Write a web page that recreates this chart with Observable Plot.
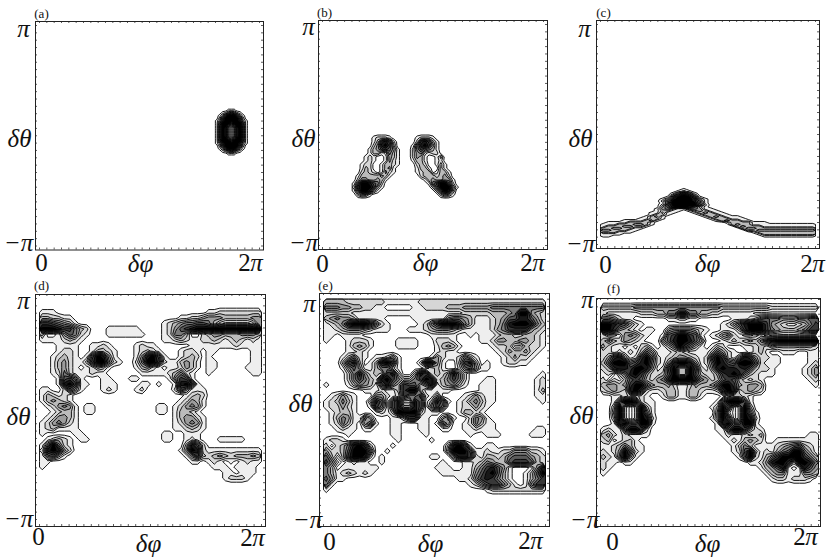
<!DOCTYPE html>
<html><head><meta charset="utf-8">
<script src="https://cdn.jsdelivr.net/npm/d3@7"></script>
<script src="https://cdn.jsdelivr.net/npm/@observablehq/plot@0.6"></script>
<style>html,body{margin:0;padding:0;background:#fff}#c{position:relative;width:830px;height:558px;overflow:hidden}#c svg{position:absolute;overflow:visible;background:none}</style>
</head><body><div id="c"></div>
<script>
const PI = Math.PI;
const panelLetters = ["(a)","(b)","(c)","(d)","(e)","(f)"];
const xLabels = ["0","δφ","2π"];
const xLabelValues = [0, PI, 2*PI];
const yLabels = ["π","δθ","−π"];
const yLabelValues = [PI, 0, -PI];
const thresholds = [0.5,1.5,2.5,3.5,4.5,5.5,6.5,7.5,8.5];
const greys = ["#eeeeee","#d6d6d6","#bbbbbb","#9c9c9c","#7c7c7c","#5a5a5a","#383838","#181818","#000000"];

// extent of each value grid in data coordinates: [φ start, φ end, θ start, θ end]
const extentA = [4.94, 6.02, 0.83, -0.62];
const extentB = [0.844, 3.87, 0.08, -1.86];
const extentC = [0, 2*PI, -1.54, -3.04];
const extentD = [0, 2*PI, PI, -PI];
const extentE = [0, 2*PI, PI, -PI];
const extentF = [0, 2*PI, PI, -PI];

const gridA = [
"0000000000000","0000011100000","0001246421000","0013699963100","0026999996200","0137999997310",
"0159996999510","0169940499610","0169830389610","0169830389610","0169830389610","0169830389610",
"0169940499610","0159996999510","0137999997310","0026999996200","0013699963100","0001246421000",
"0000011100000","0000000000000"];

const gridB = [
"0000000000000 0 0000000000000",
"0000012221000 0 0012221000000",
"0000013786200 0 0027863100000",
"0000024897300 0 0158974100000",
"0000134676410 0 0257543100000",
"0000133125310 0 0245212200000",
"0001210014310 0 0243100130000",
"0001210014210 0 0133100120000",
"0012200133210 0 0023200131000",
"0013200134100 0 0013310031000",
"0023210142100 0 0012330133100",
"0133333431000 0 0002333234200",
"0244334310000 0 0000134334410",
"1599865200000 0 0000015799620",
"2799973100000 0 0000002699941",
"1599731000000 0 0000000269830",
"0243100000000 0 0000000024310",
"0000000000000 0 0000000000000"];

const gridC = [
"0000000000 0000010000 0000000000 0000000000",
"0000000000 0000121000 0000000000 0000000000",
"0000000000 0001474100 0000000000 0000000000",
"0000000000 0003797300 0000000000 0000000000",
"0000000000 0016999610 0000000000 0000000000",
"0000000000 0138999831 0000000000 0000000000",
"0000000000 0259999851 0000000000 0000000000",
"0000000000 0139999951 0000000000 0000000000",
"0000000000 0269999962 0000000000 0000000000",
"0000000000 0368998631 0000000000 0000000000",
"0000000000 1453114541 1000000000 0000000000",
"0000000000 1331101343 1100000000 0000000000",
"0000000001 1411000134 3110000000 0000000000",
"0000000001 3310000013 3311000000 0000000000",
"0000000013 4100000001 3431110000 0000000000",
"0000000113 3100000000 1333111000 0000000000",
"0000111134 1000000000 0134331100 0000000000",
"0111133331 0000000000 0001333311 1000000000",
"1113334431 0000000000 0000343311 1111111111",
"1333443310 0000000000 0000034333 1111111111",
"3344331100 0000000000 0000003443 3333333333",
"4433311000 0000000000 0000000334 4444444444",
"3331110000 0000000000 0000000013 3333333333",
"1111000000 0000000000 0000000001 3333333333",
"1100000000 0000000000 0000000000 1111111111",
"0000000000 0000000000 0000000000 0000000000",
"0000000000 0000000000 0000000000 0000000000"];

const gridD = [
"0000000000 0000000000 0000000000 0000000000",
"0000000000 0000000000 0000000000 0000000000",
"1110000000 0000000000 0000000000 1122222222",
"3322110000 0000000000 0000011223 4443333344",
"7765431000 0000000000 0012345566 5310000014",
"9998775320 0011111100 0012467899 9999999999",
"3001465210 0011111110 0012553002 3443334443",
"1111232100 0000000000 0011232112 2321232121",
"0001111001 1210000121 1000000111 1111121111",
"0001221001 3321000123 2100012210 1100000011",
"0012321016 9841000148 9610012320 1000000011",
"0013421137 9952100259 9721134310 1100000011",
"0013421012 4310000134 2101124310 1100000111",
"0012521112 1100000011 1112352100 1000000011",
"0001675100 0110001100 0001576100 0000000000",
"0001897110 0111000011 0100189710 0000000000",
"1100264100 0121000120 0000264111 0000000000",
"1321210000 0000000000 0000001232 0000000000",
"1343210000 0000000000 0000012431 0000000000",
"0124541011 0000000000 0110124541 0000000000",
"0012331011 0000000000 0110133210 0000000000",
"0124431000 0000000000 0000134421 0000000000",
"1245421000 0000000000 0000124541 0000000000",
"1231111000 0000000000 0000112321 0000000000",
"1000001100 0000000000 0011001110 0000000000",
"0123210110 0000000000 0011001210 0011111000",
"1595210000 0000000000 0000003862 0000000000",
"2898420000 0000000000 0000014982 1111111111",
"1563100000 0000000000 0000001473 2343233343",
"1100000000 0000000000 0000000110 1210101211",
"1000000000 0000000000 0000000000 0111011110",
"0000000000 0000000000 0000000000 0001101110",
"0000000000 0000000000 0000000000 0001222100",
"0000000000 0000000000 0000000000 0000000000",
"0000000000 0000000000 0000000000 0000000000",
"0000000000 0000000000 0000000000 0000000000",
"0000000000 0000000000 0000000000 0000000000",
"0000000000 0000000000 0000000000 0000000000",
"0000000000 0000000000 0000000000 0000000000",
"0000000000 0000000000 0000000000 0000000000"];

const gridE = [
"3333222222 2111111222 2222222222 2222222222",
"5554433221 1000001122 2233344444 5555555555",
"2222211111 1111111111 1111122222 3334599432",
"3454431111 1000001111 1145543111 2346688642",
"1235899975 2100000125 7999853111 2358999853",
"1123444321 1100011123 4443211111 2457777432",
"1101111000 0000000001 1111001011 1233223321",
"1000122210 0001111000 2221000011 2443344321",
"0000134310 0001111000 1343100000 1223003221",
"0000112100 0000000000 1211000000 0124334210",
"0001352101 1241000001 4211253100 0012422100",
"0003783013 8971000288 4100378301 0012211000",
"0001464113 5531000012 3100256411 0000000000",
"0000258423 2783003872 3248520000 0000000001",
"0000257532 8975335798 2357520001 1000000012",
"1000135431 6853766358 1345310011 1000000012",
"0000000111 2113799311 1110000011 1000000013",
"0124210004 4212755721 4000012421 1000000011",
"1235310038 6168228613 8610124531 1000000001",
"1224210017 5168448615 7500122421 0000000000",
"0123310001 2139999311 1000133210 0000000000",
"0135411530 0011377110 0351002541 0000000000",
"0125310461 0011000110 1640012531 1000000000",
"0012110110 0011000110 0110011211 1000000011",
"0000100000 0011000010 0000001001 1100000111",
"1221000000 0001000001 0000000000 0000000000",
"2023589720 0010000000 0038961001 1000000000",
"4223699950 0100000000 0049996112 1122444221",
"6303799820 1000000001 1004887213 3235666432",
"7520121100 1000000000 0100011235 4336777632",
"5301111111 0000000000 1110011357 8641000148",
"5312321210 0000000000 0111111468 9631001369",
"6411000000 0000000000 0000112578 7531001357",
"5100000000 0000000000 0000001246 7753101577",
"1000000000 0000000000 0000000001 2222222222",
"0000000000 0000000000 0000000000 0000000000",
"0000000000 0000000000 0000000000 0000000000",
"0000000000 0000000000 0000000000 0000000000",
"0000000000 0000000000 0000000000 0000000000",
"0000000000 0000000000 0000000000 0000000000"];

const gridF = [
"0000000000 0000000000 0000000000 0000000000",
"3333334444 4444444444 4433333333 3222222222",
"2111111222 3355885533 2211111100 0000000000",
"5542110000 0011221100 0000111235 6554445566",
"9987642100 0000000000 0012468999 7432112357",
"9974321011 0034444321 0011137999 7543334577",
"2001454210 0167997610 1245210012 1000000000",
"3532432100 0468998640 0012323435 7899999999",
"4211010231 0135975310 1320001123 2433333332",
"2212121364 1112321111 3642100123 1001110011",
"2478412796 2123443212 7972148742 2110000011",
"3699956895 2148998412 5986599962 1110000012",
"2378879984 1279339721 4898878632 2100000124",
"1203589742 2369339632 2478985321 1100000124",
"2021367632 4589999854 2367632121 0000000012",
"3443479964 3342112433 4699743443 0000000001",
"2343289721 1233113321 1279823432 0000000000",
"0011233210 0133113310 0012332100 0000000000",
"0016998211 0000000000 0169996100 0000000000",
"0039202931 0000000000 1396029300 0000000000",
"0049202951 0000000000 0492029510 0000000000",
"0039202982 0000000000 1496029820 0000000000",
"0018966991 0000000000 0189669910 0000000000",
"1211699720 0000000000 0116997421 0000000000",
"3421211110 0000000000 0012112123 0000000011",
"2301231000 0000000000 0001213432 0011111111",
"1123531100 0000000000 0000135311 1123456321",
"2124962100 0000000000 0000126931 2135699531",
"3215941000 0000000000 0000015921 3579999753",
"2110110000 0000000000 0000000112 4899729985",
"2100000000 0000000000 0000000001 3468101864",
"1000000000 0000000000 0000000000 1344111443",
"0000000000 0000000000 0000000000 0122122210",
"0000000000 0000000000 0000000000 0000000000",
"0000000000 0000000000 0000000000 0000000000",
"0000000000 0000000000 0000000000 0000000000",
"0000000000 0000000000 0000000000 0000000000",
"0000000000 0000000000 0000000000 0000000000",
"0000000000 0000000000 0000000000 0000000000",
"0000000000 0000000000 0000000000 0000000000"];

// page layout: frame box and inset of the data range within the frame
const frames = [
 {l:35,r:263,t:20.5,b:249,il:4,ir:4,it:4,ib:4},
 {l:318,r:547,t:20,b:249,il:4,ir:4,it:4,ib:4},
 {l:596,r:819,t:20,b:248,il:4,ir:4,it:4,ib:4},
 {l:35,r:265,t:294,b:526,il:4,ir:4,it:4,ib:7},
 {l:319,r:549,t:293,b:526,il:4,ir:4,it:5.7,ib:6.3},
 {l:596,r:820,t:298,b:526,il:4,ir:2,it:1,ib:6}
];
// label centres on the page: letter, then x labels, then y labels
const labelSpots = [
 [[41,13],[41,262],[140,263],[250,262],[23,28],[19,138],[18,242]],
 [[324,12],[322,263],[425,262],[532,262],[308,26],[303,138],[303,242]],
 [[603,12],[605,264],[707,263],[812,263],[584,28],[580,138],[580,243]],
 [[41,285],[38,536],[148,543],[252,537],[23,300],[18,416],[18,518]],
 [[325,285],[329,541],[430,543],[530,540],[309,303],[300,403],[307,519]],
 [[613,288],[612,541],[707,543],[805,536],[587,299],[581,415],[584,519]]
];
const grids = [gridA,gridB,gridC,gridD,gridE,gridF];
const extents = [extentA,extentB,extentC,extentD,extentE,extentF];
const serif = "'Liberation Serif','Times New Roman',serif";
const M = {l:30,r:8,t:16,b:30};
const root = document.getElementById("c");

grids.forEach((rows,i)=>{
  const f = frames[i], ext = extents[i], spots = labelSpots[i];
  const clean = rows.map(s=>s.replace(/ /g,""));
  const w = d3.max(clean,s=>s.length), h = clean.length;
  const values = clean.flatMap(s=>Array.from(s.padEnd(w,"0").slice(0,w),Number));
  const W = f.r-f.l, H = f.b-f.t;
  const dphi = 2*PI/(W-f.il-f.ir), dth = 2*PI/(H-f.it-f.ib);
  const xDom = [-f.il*dphi, 2*PI+f.ir*dphi];
  const yDom = [-PI-f.ib*dth, PI+f.it*dth];
  const sx = v => f.l+(v-xDom[0])/dphi;
  const sy = v => f.t+(yDom[1]-v)/dth;
  const minor = d3.range(Math.ceil(xDom[0]/(2*PI/30)), Math.floor(xDom[1]/(2*PI/30))+1).map(k=>k*2*PI/30);
  const minorY = d3.range(Math.ceil(yDom[0]/(2*PI/30)), Math.floor(yDom[1]/(2*PI/30))+1).map(k=>k*2*PI/30);
  const tickOpts = {stroke:"#333",strokeWidth:0.8};
  const text = (t,x,y,px,py,style,size) => Plot.text([t],{text:d=>d,x:()=>x,y:()=>y,dx:px-sx(x),dy:py-sy(y),
     fontFamily:serif,fontSize:size,fontStyle:style,fill:"#111",textAnchor:"middle",lineAnchor:"middle"});
  const marks = [
    Plot.contour(values,{x1:ext[0],x2:ext[1],y1:ext[2],y2:ext[3],width:w,height:h,fill:Plot.identity,
       thresholds,stroke:"#000",strokeWidth:0.9}),
    Plot.tickX(minor,{x:d=>d,insetBottom:H-2,...tickOpts}),
    Plot.tickX(minor,{x:d=>d,insetTop:H-2,...tickOpts}),
    Plot.tickY(minorY,{y:d=>d,insetRight:W-2,...tickOpts}),
    Plot.tickY(minorY,{y:d=>d,insetLeft:W-2,...tickOpts}),
    Plot.frame({stroke:"#222",strokeWidth:1}),
    text(panelLetters[i],xLabelValues[0],yLabelValues[0],spots[0][0],spots[0][1],"normal",13)
  ];
  xLabels.forEach((t,k)=>{
    const [px,py] = spots[k+1];
    if (t==="2π") {
      marks.push(text("2",xLabelValues[k],yLabelValues[2],px-6,py,"normal",25));
      marks.push(text("π",xLabelValues[k],yLabelValues[2],px+6,py,"italic",25));
    } else marks.push(text(t,xLabelValues[k],yLabelValues[2],px,py,t==="0"?"normal":"italic",25));
  });
  yLabels.forEach((t,k)=>{
    const [px,py] = spots[k+4];
    marks.push(text(t,xLabelValues[0],yLabelValues[k],px,py,"italic",25));
  });
  const svg = Plot.plot({
    width:W+M.l+M.r, height:H+M.t+M.b,
    marginLeft:M.l,marginRight:M.r,marginTop:M.t,marginBottom:M.b,
    x:{domain:xDom,axis:null}, y:{domain:yDom,axis:null},
    color:{type:"linear",domain:thresholds,range:greys},
    style:{background:"none",overflow:"visible"},
    marks
  });
  svg.style.left=(f.l-M.l)+"px"; svg.style.top=(f.t-M.t)+"px";
  root.appendChild(svg);
});
</script></body></html>
